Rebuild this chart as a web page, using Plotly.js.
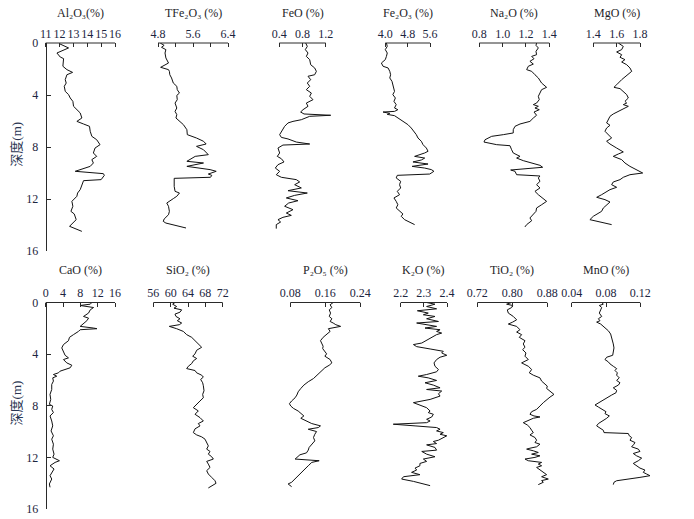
<!DOCTYPE html>
<html>
<head>
<meta charset="utf-8">
<script src="https://cdn.plot.ly/plotly-3.0.1.min.js"></script>
<style>html,body{margin:0;padding:0;background:#fff;}#chart{width:694px;height:519px;}</style>
</head>
<body>
<div id="chart"></div>
<script>
// ---------------- DATA ----------------
const depthTicks = [0, 4, 8, 12, 16];

const alTicks = [11, 12, 13, 14, 15, 16];
const alTickText = ['11', '12', '13', '14', '15', '16'];
const alDepth = [0.05,0.38,0.77,1.08,1.2,1.79,2.05,2.26,2.44,2.82,3.08,3.33,3.72,3.97,4.23,4.49,4.87,5.13,5.38,5.77,6.03,6.23,6.41,6.79,7.18,7.44,7.82,8.08,8.46,8.72,8.97,9.23,9.49,9.87,9.95,10.05,10.18,10.51,10.59,10.9,11.28,11.54,11.79,12.18,12.56,12.95,13.15,13.59,14.1,14.49];
const alVal = [11.98,12.65,11.81,12.05,12.29,12.24,12.53,12.94,12.53,12.41,12.48,12.34,12.41,12.65,12.77,12.96,13.01,13.25,13.49,13.61,13.25,13.73,14.16,14.21,14.33,14.68,14.92,14.56,14.44,14.68,14.33,14.44,14.21,13.13,14.21,15.16,15.23,15.0,13.73,13.61,13.49,13.3,13.25,12.89,12.96,12.82,13.06,13.2,12.72,13.61];

const tfeTicks = [4.8, 5.2, 5.6, 6.0, 6.4];
const tfeTickText = ['4.8', '', '5.6', '', '6.4'];
const tfeDepth = [0,0.18,0.33,0.51,0.77,1.15,1.54,1.67,1.87,2.05,2.18,2.44,2.69,3.08,3.33,3.59,3.85,4.03,4.36,4.62,5.0,5.26,5.51,5.77,6.03,6.28,6.67,7.05,7.31,7.56,7.77,7.95,8.21,8.59,8.72,9.1,9.23,9.49,9.74,9.87,10.08,10.18,10.33,10.41,11.03,11.41,11.54,11.79,11.97,12.31,12.56,12.95,13.21,13.54,13.72,13.85,14.23];
const tfeVal = [4.85,4.94,4.88,4.98,4.96,4.98,5.04,4.96,4.86,5.04,5.06,5.07,5.11,5.15,5.23,5.24,5.29,5.23,5.24,5.19,5.23,5.19,5.23,5.21,5.29,5.38,5.46,5.47,5.68,5.84,5.90,5.68,5.84,5.95,5.65,5.46,5.84,5.46,5.99,6.13,5.95,6.03,6.00,5.17,5.17,5.19,5.29,5.23,5.15,5.0,5.04,5.06,5.04,4.94,4.92,4.98,5.44];

const feoTicks = [0.4, 0.8, 1.2];
const feoTickText = ['0.4', '0.8', '1.2'];
const feoDepth = [0,0.26,0.51,0.77,1.03,1.28,1.67,1.92,2.18,2.44,2.56,2.82,3.08,3.33,3.59,3.85,4.10,4.36,4.62,4.87,5.13,5.31,5.46,5.56,5.64,5.77,5.9,6.03,6.15,6.41,6.79,7.05,7.26,7.38,7.62,7.77,7.85,8.08,8.46,8.72,8.9,9.15,9.36,9.62,9.87,10.13,10.33,10.51,10.69,10.9,11.15,11.36,11.54,11.72,11.92,12.13,12.31,12.56,12.82,13.08,13.26,13.41,13.59,13.77,13.97,14.28];
const feoVal = [0.855,0.883,0.849,0.895,0.866,0.924,0.941,1.01,1.039,1.01,0.895,0.941,0.883,0.924,0.866,0.953,0.924,0.981,0.866,0.895,0.809,0.768,0.826,1.286,0.924,0.837,0.78,0.636,0.55,0.492,0.435,0.406,0.435,0.55,0.694,0.924,0.463,0.377,0.406,0.365,0.435,0.481,0.377,0.331,0.406,0.348,0.435,0.694,0.751,0.665,0.78,0.55,0.883,0.665,0.521,0.722,0.561,0.492,0.636,0.521,0.607,0.463,0.377,0.423,0.348,0.348];

const fe2Ticks = [4.0, 4.8, 5.6];
const fe2TickText = ['4.0', '4.8', '5.6'];
const fe2Depth = [0,0.26,0.51,0.77,1.03,1.28,1.54,1.79,1.92,2.18,2.44,2.69,2.95,3.21,3.46,3.72,3.97,4.23,4.49,4.74,5.0,5.13,5.26,5.31,5.41,5.49,5.59,5.77,6.03,6.28,6.54,6.79,7.05,7.31,7.56,7.82,8.08,8.33,8.46,8.72,8.85,9.0,9.15,9.31,9.49,9.62,9.74,9.87,10.08,10.18,10.38,10.64,10.9,11.15,11.41,11.67,11.92,12.18,12.44,12.69,12.95,13.15,13.33,13.59,13.97];
const fe2Val = [4.04,4.07,4.0,4.07,4.04,4.0,3.86,3.92,4.10,4.16,4.19,4.16,4.24,4.27,4.31,4.33,4.27,4.36,4.31,4.39,4.33,4.45,4.33,3.92,4.16,4.07,4.33,4.45,4.63,4.81,4.93,5.03,5.11,5.17,5.29,5.35,5.47,5.53,5.41,5.05,5.41,5.29,4.99,5.53,4.96,5.41,5.65,5.74,5.59,4.43,4.39,4.55,4.51,4.55,4.43,4.51,4.31,4.39,4.45,4.39,4.51,4.63,4.57,4.69,5.05];

const naTicks = [0.8, 1.0, 1.2, 1.4];
const naTickText = ['0.8', '1.0', '1.2', '1.4'];
const naDepth = [0,0.18,0.38,0.64,0.9,1.03,1.21,1.41,1.62,1.79,2.05,2.18,2.44,2.69,3.08,3.41,3.59,3.85,4.10,4.36,4.62,4.74,4.87,5.0,5.13,5.31,5.56,5.77,6.03,6.23,6.41,6.67,6.92,7.05,7.18,7.44,7.62,7.82,7.9,8.21,8.46,8.72,8.85,9.05,9.23,9.41,9.56,9.67,9.77,9.87,10.13,10.23,10.38,10.64,10.9,11.15,11.41,11.67,12.05,12.18,12.44,12.69,12.95,13.21,13.46,13.67,13.97,14.15];
const naVal = [1.291,1.286,1.306,1.286,1.291,1.249,1.269,1.234,1.263,1.22,1.206,1.249,1.277,1.306,1.334,1.377,1.334,1.32,1.306,1.314,1.291,1.263,1.306,1.277,1.314,1.269,1.291,1.263,1.234,1.149,1.106,1.091,1.091,1.006,0.906,0.849,0.84,0.949,1.063,1.077,1.091,1.149,1.12,1.177,1.249,1.32,1.343,1.191,1.069,1.106,1.12,1.32,1.306,1.32,1.291,1.32,1.277,1.306,1.354,1.377,1.334,1.291,1.286,1.263,1.234,1.249,1.206,1.191];

const mgTicks = [1.4, 1.6, 1.8];
const mgTickText = ['1.4', '1.6', '1.8'];
const mgDepth = [0,0.26,0.51,0.69,0.9,1.1,1.28,1.46,1.67,1.92,2.18,2.38,2.56,2.82,3.21,3.41,3.51,3.72,3.97,4.23,4.49,4.62,4.74,4.87,5.0,5.26,5.46,5.64,5.9,6.15,6.33,6.54,6.79,7.05,7.31,7.56,7.77,8.08,8.38,8.54,8.72,8.97,9.23,9.49,9.74,10.0,10.13,10.33,10.51,10.69,10.9,11.1,11.28,11.46,11.67,11.87,12.05,12.23,12.44,12.69,12.95,13.33,13.59,13.97];
const mgVal = [1.614,1.657,1.643,1.6,1.643,1.629,1.671,1.643,1.686,1.714,1.729,1.7,1.671,1.643,1.6,1.577,1.629,1.657,1.686,1.7,1.671,1.686,1.657,1.7,1.671,1.614,1.571,1.543,1.529,1.514,1.543,1.514,1.5,1.529,1.557,1.514,1.543,1.6,1.657,1.614,1.571,1.643,1.671,1.714,1.771,1.823,1.714,1.657,1.629,1.571,1.557,1.6,1.543,1.514,1.471,1.429,1.5,1.543,1.514,1.486,1.471,1.4,1.371,1.557];

const caTicks = [0, 4, 8, 12, 16];
const caTickText = ['0', '4', '8', '12', '16'];
const caDepth = [0,0.13,0.23,0.39,0.57,0.82,1.08,1.21,1.41,1.67,1.85,1.98,2.03,2.11,2.24,2.49,2.7,2.96,3.26,3.52,3.83,4.09,4.29,4.42,4.68,4.86,5.06,5.19,5.32,5.45,5.58,5.71,5.84,6.09,6.35,6.74,7.12,7.51,7.89,8.02,8.28,8.53,8.79,9.18,9.56,9.95,10.33,10.59,10.98,11.36,11.75,12.0,12.26,12.39,12.65,12.9,13.16,13.42,13.68,14.06,14.32];
const caVal = [10.66,10.28,7.96,11.05,10.28,9.89,8.73,9.89,9.51,8.73,7.96,11.05,11.82,7.96,7.57,6.41,5.49,5.26,4.1,3.71,4.1,4.48,5.26,4.1,4.87,6.03,5.64,4.48,3.32,2.94,1.78,2.55,1.62,1.78,1.39,1.39,1.0,1.16,0.85,1.62,1.39,1.78,1.0,1.39,1.62,1.24,1.78,1.39,1.78,1.62,1.93,1.62,3.17,2.16,1.0,1.93,1.39,1.0,1.39,0.85,1.0];

const siTicks = [56, 60, 64, 68, 72];
const siTickText = ['56', '60', '64', '68', '72'];
const siDepth = [0,0.13,0.31,0.44,0.57,0.75,0.9,1.08,1.26,1.41,1.59,1.72,1.85,1.93,2.03,2.24,2.49,2.7,2.96,3.21,3.47,3.7,3.98,4.16,4.34,4.52,4.73,4.94,5.12,5.27,5.45,5.63,5.78,5.96,6.22,6.45,6.84,7.12,7.38,7.63,7.89,8.15,8.4,8.66,8.92,9.18,9.38,9.56,9.79,10.08,10.26,10.41,10.59,10.85,11.11,11.36,11.54,11.75,11.95,12.13,12.31,12.52,12.78,13.03,13.29,13.55,13.81,14.01,14.19,14.37];
const siVal = [61.0,60.46,61.38,60.77,62.54,62.15,61.0,61.23,62.15,61.54,62.54,62.0,59.69,60.62,61.38,62.92,63.69,64.85,65.62,66.38,67.15,66.0,65.62,65.08,66.0,65.23,64.85,64.08,63.69,65.62,66.0,67.15,67.54,66.92,67.38,67.54,67.69,67.38,67.54,66.77,66.0,65.23,66.38,65.62,66.77,67.54,66.38,66.77,65.62,65.23,66.0,67.15,67.92,68.31,68.69,68.31,69.08,68.69,69.46,69.85,68.31,68.69,69.08,68.31,68.69,69.46,70.23,70.46,69.46,68.69];

const pTicks = [0.08, 0.16, 0.24];
const pTickText = ['0.08', '0.16', '0.24'];
const pDepth = [0,0.18,0.39,0.57,0.82,1.08,1.26,1.47,1.59,1.72,1.85,1.93,2.03,2.24,2.44,2.7,2.96,3.14,3.39,3.57,3.78,3.98,4.16,4.42,4.68,4.86,5.06,5.27,5.45,5.71,5.89,6.14,6.4,6.66,6.92,7.17,7.38,7.63,7.84,8.02,8.2,8.41,8.61,8.79,8.97,9.18,9.38,9.56,9.69,9.82,10.0,10.21,10.46,10.72,10.98,11.23,11.44,11.65,11.8,12.0,12.13,12.26,12.39,12.65,12.9,13.16,13.42,13.68,13.93,14.06,14.27];
const pVal = [0.178,0.171,0.175,0.169,0.172,0.169,0.175,0.171,0.178,0.184,0.195,0.178,0.167,0.171,0.163,0.155,0.149,0.152,0.155,0.154,0.159,0.163,0.159,0.171,0.175,0.169,0.159,0.152,0.148,0.139,0.133,0.121,0.111,0.104,0.098,0.095,0.091,0.083,0.078,0.081,0.087,0.098,0.106,0.111,0.104,0.116,0.129,0.149,0.144,0.121,0.140,0.136,0.133,0.136,0.129,0.123,0.121,0.117,0.102,0.096,0.091,0.146,0.129,0.121,0.114,0.106,0.098,0.091,0.083,0.075,0.083];

const kTicks = [2.2, 2.3, 2.4];
const kTickText = ['2.2', '2.3', '2.4'];
const kDepth = [0,0.13,0.31,0.49,0.64,0.82,0.95,1.08,1.26,1.47,1.59,1.72,1.85,1.98,2.11,2.24,2.37,2.49,2.7,2.88,3.14,3.26,3.42,3.6,3.78,3.91,4.09,4.24,4.42,4.68,4.94,5.19,5.37,5.58,5.71,5.84,6.04,6.22,6.4,6.61,6.74,6.86,7.07,7.25,7.51,7.76,7.94,8.15,8.41,8.53,8.66,8.87,9.05,9.18,9.31,9.43,9.56,9.69,9.82,9.95,10.08,10.21,10.33,10.46,10.67,10.77,10.93,11.03,11.23,11.44,11.54,11.75,11.95,12.13,12.31,12.47,12.65,12.83,12.98,13.16,13.34,13.5,13.68,13.86,14.19];
const kVal = [2.312,2.348,2.312,2.355,2.272,2.319,2.298,2.348,2.312,2.363,2.269,2.312,2.355,2.305,2.37,2.355,2.377,2.355,2.334,2.312,2.291,2.255,2.269,2.327,2.384,2.377,2.399,2.37,2.355,2.344,2.348,2.363,2.355,2.312,2.276,2.319,2.355,2.305,2.341,2.37,2.312,2.377,2.363,2.37,2.327,2.255,2.283,2.312,2.327,2.319,2.341,2.334,2.312,2.327,2.312,2.168,2.262,2.355,2.37,2.355,2.384,2.37,2.399,2.384,2.363,2.341,2.355,2.312,2.348,2.355,2.291,2.312,2.348,2.298,2.312,2.283,2.283,2.262,2.269,2.247,2.283,2.212,2.204,2.255,2.327];

const tiTicks = [0.72, 0.80, 0.88];
const tiTickText = ['0.72', '0.80', '0.88'];
const tiDepth = [0,0.13,0.23,0.39,0.57,0.82,1.08,1.34,1.52,1.67,1.85,2.11,2.29,2.49,2.7,2.96,3.21,3.47,3.65,3.91,4.16,4.42,4.68,4.94,5.19,5.45,5.63,5.84,6.09,6.3,6.48,6.66,6.86,7.12,7.33,7.51,7.76,8.02,8.28,8.46,8.66,8.79,8.87,8.97,9.18,9.31,9.49,9.69,9.9,10.08,10.26,10.46,10.67,10.85,10.98,11.18,11.29,11.36,11.49,11.62,11.75,11.88,12.0,12.13,12.26,12.39,12.52,12.65,12.78,12.98,13.16,13.34,13.5,13.68,13.8,13.93,14.11];
const tiVal = [0.7985,0.787,0.8008,0.7985,0.7886,0.7909,0.8023,0.8099,0.8008,0.7909,0.8099,0.8175,0.8099,0.8213,0.816,0.829,0.8251,0.829,0.8236,0.8312,0.829,0.8366,0.8213,0.8366,0.8442,0.8389,0.848,0.8632,0.867,0.8747,0.88,0.8785,0.8861,0.8952,0.8861,0.8785,0.8709,0.8632,0.8556,0.8442,0.8404,0.8495,0.8632,0.848,0.8328,0.8251,0.8343,0.8404,0.8442,0.848,0.8404,0.8518,0.8556,0.8518,0.8632,0.8556,0.8404,0.8328,0.848,0.8594,0.8442,0.8632,0.8518,0.829,0.8366,0.867,0.8594,0.867,0.8556,0.8632,0.8724,0.8785,0.867,0.8823,0.867,0.8709,0.8594];

const mnTicks = [0.04, 0.08, 0.12];
const mnTickText = ['0.04', '0.08', '0.12'];
const mnDepth = [0,0.13,0.23,0.39,0.57,0.82,1.08,1.26,1.41,1.52,1.67,1.85,2.03,2.19,2.44,2.7,2.96,3.21,3.52,3.83,4.09,4.24,4.42,4.6,4.76,4.94,5.12,5.27,5.45,5.63,5.84,6.04,6.22,6.4,6.61,6.81,6.99,7.17,7.38,7.58,7.76,7.94,8.1,8.28,8.46,8.61,8.79,8.97,9.18,9.38,9.56,9.74,9.9,10.08,10.15,10.33,10.46,10.67,10.85,10.98,11.18,11.36,11.54,11.7,11.88,12.06,12.26,12.47,12.65,12.83,12.98,13.16,13.29,13.42,13.55,13.68,13.81,13.93,14.11];
const mnVal = [0.075,0.0769,0.0722,0.075,0.0738,0.0722,0.075,0.0711,0.073,0.0691,0.0738,0.0769,0.08,0.0827,0.0854,0.0866,0.0878,0.0885,0.0893,0.0885,0.0878,0.0808,0.0788,0.0827,0.0847,0.0885,0.0924,0.0905,0.0932,0.0924,0.0955,0.0924,0.0963,0.0944,0.0885,0.0924,0.0917,0.0866,0.0816,0.0769,0.0722,0.0672,0.0711,0.075,0.08,0.0788,0.0839,0.0808,0.075,0.0711,0.0691,0.073,0.0769,0.0777,0.106,0.1072,0.1099,0.108,0.1138,0.1126,0.1099,0.1177,0.1196,0.1118,0.1157,0.1216,0.1177,0.1118,0.1157,0.1196,0.1254,0.1235,0.1274,0.1313,0.1196,0.1041,0.0924,0.0893,0.0885];

const panelTitles = ['Al₂O₃(%)', 'TFe₂O₃ (%)', 'FeO (%)', 'Fe₂O₃ (%)', 'Na₂O (%)', 'MgO (%)',
                     'CaO (%)', 'SiO₂ (%)', 'P₂O₅ (%)', 'K₂O (%)', 'TiO₂ (%)', 'MnO (%)'];
const depthTitle = '深度(m)';

// ---------------- LAYOUT ----------------
const W = 694, H = 519;
const rows = [
  {top: 43, bottom: 251, titleY: 13},
  {top: 302.5, bottom: 509, titleY: 270}
];
const panels = [
  {d: alDepth, v: alVal, t: alTicks, tt: alTickText, row: 0, L: 45.7, R: 115},
  {d: tfeDepth, v: tfeVal, t: tfeTicks, tt: tfeTickText, row: 0, L: 158, R: 228},
  {d: feoDepth, v: feoVal, t: feoTicks, tt: feoTickText, row: 0, L: 279.3, R: 325.7},
  {d: fe2Depth, v: fe2Val, t: fe2Ticks, tt: fe2TickText, row: 0, L: 385.3, R: 430},
  {d: naDepth, v: naVal, t: naTicks, tt: naTickText, row: 0, L: 479.3, R: 549.3},
  {d: mgDepth, v: mgVal, t: mgTicks, tt: mgTickText, row: 0, L: 593.3, R: 640},
  {d: caDepth, v: caVal, t: caTicks, tt: caTickText, row: 1, L: 45.7, R: 115},
  {d: siDepth, v: siVal, t: siTicks, tt: siTickText, row: 1, L: 153.3, R: 222.7},
  {d: pDepth, v: pVal, t: pTicks, tt: pTickText, row: 1, L: 290.3, R: 360.3},
  {d: kDepth, v: kVal, t: kTicks, tt: kTickText, row: 1, L: 400.7, R: 447},
  {d: tiDepth, v: tiVal, t: tiTicks, tt: tiTickText, row: 1, L: 477.3, R: 547.3},
  {d: mnDepth, v: mnVal, t: mnTicks, tt: mnTickText, row: 1, L: 571.7, R: 640.3}
];

const serif = 'Liberation Serif, DejaVu Serif, serif';
const tickColor = '#1c2540';
const titleColor = '#1e1e28';
const lineColor = '#2a2a2a';
const pad = 12;

const traces = [];
const layout = {
  width: W, height: H,
  margin: {l: 0, r: 0, t: 0, b: 0},
  paper_bgcolor: '#ffffff', plot_bgcolor: 'rgba(0,0,0,0)',
  showlegend: false,
  shapes: [], annotations: []
};

rows.forEach((r, i) => {
  const key = i === 0 ? 'yaxis' : 'yaxis2';
  layout[key] = {
    domain: [1 - r.bottom / H, 1 - r.top / H],
    range: [16, 0],
    anchor: 'free', position: 45.7 / W,
    tickvals: depthTicks, ticktext: depthTicks.map(String),
    ticks: 'inside', ticklen: 4, tickwidth: 1, tickcolor: lineColor,
    showline: true, linecolor: lineColor, linewidth: 1,
    showgrid: false, zeroline: false, fixedrange: true,
    tickfont: {family: serif, size: 12, color: tickColor},
    tickangle: 0, ticklabelstandoff: 5
  };
  layout.annotations.push({
    text: depthTitle, xref: 'paper', yref: 'paper',
    x: 16.7 / W, y: 1 - ((r.top + r.bottom) / 2 - 3) / H,
    xanchor: 'center', yanchor: 'middle', textangle: -90, showarrow: false,
    font: {family: 'Liberation Serif, Noto Sans CJK SC, serif', size: 13, color: '#2a3552'}
  });
});

panels.forEach((p, i) => {
  const n = i === 0 ? '' : String(i + 1);
  const xid = 'x' + n;
  const yid = p.row === 0 ? 'y' : 'y2';
  const r = rows[p.row];
  const a = p.t[0], b = p.t[p.t.length - 1];
  const s = (b - a) / (p.R - p.L);
  layout['xaxis' + n] = {
    domain: [(p.L - pad) / W, (p.R + pad) / W],
    range: [a - pad * s, b + pad * s],
    anchor: yid, side: 'top',
    tickvals: p.t, ticktext: p.tt, tickangle: 0,
    ticks: 'inside', ticklen: 4, tickwidth: 1, tickcolor: lineColor,
    showline: false, showgrid: false, zeroline: false, fixedrange: true,
    tickfont: {family: serif, size: 12, color: tickColor},
    ticklabelstandoff: 2
  };
  // axis baseline spanning the labelled tick range
  layout.shapes.push({
    type: 'line', xref: xid, yref: 'paper',
    x0: a, x1: b, y0: 1 - r.top / H, y1: 1 - r.top / H,
    line: {color: lineColor, width: 1}
  });
  layout.annotations.push({
    text: panelTitles[i], xref: 'paper', yref: 'paper',
    x: ((p.L + p.R) / 2) / W, y: 1 - r.titleY / H,
    xanchor: 'center', yanchor: 'middle', showarrow: false,
    font: {family: serif, size: 12, color: titleColor}
  });
  traces.push({
    type: 'scatter', mode: 'lines',
    x: p.v, y: p.d, xaxis: xid, yaxis: yid,
    line: {color: '#111111', width: 1},
    hoverinfo: 'skip'
  });
});

Plotly.newPlot('chart', traces, layout, {displayModeBar: false, staticPlot: true});
</script>
</body>
</html>
